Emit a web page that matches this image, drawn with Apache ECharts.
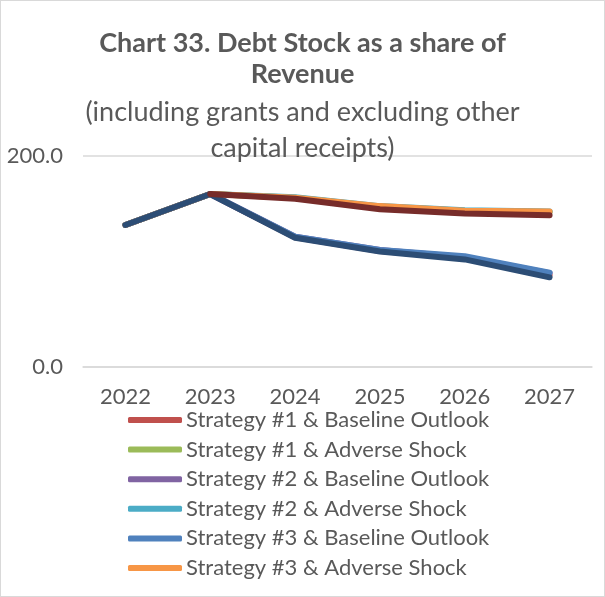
<!DOCTYPE html>
<html><head><meta charset="utf-8">
<script src="https://cdn.jsdelivr.net/npm/echarts@6/dist/echarts.min.js"></script>
<style>html,body{margin:0;padding:0;background:#fff}#c{position:absolute;left:0;top:0;width:603px;height:595px;border:1px solid #d9d9d9}</style>
</head><body><div id="c"></div>
<script>
const years = ['2022','2023','2024','2025','2026','2027'];
const s1Base = [134.6,164,123,110,103,87];
const s1Adv  = [134.6,164,160.5,152,148,147];
const s2Base = [134.6,164,123.5,111,104,89];
const s2Adv  = [134.6,164,161,152.5,148.5,147.5];
const s3Base = [134.6,164,123.5,111,105,89.5];
const s3Adv  = [134.6,164,160.5,152.5,148,147.5];
const extraA = [134.6,164,122.5,109.5,102,85];
const extraB = [null,164,159.5,149.5,145.5,143.8];
const yTicks = [0,200];

const FONT = 'Lato';
const names = ['Strategy #1 & Baseline Outlook','Strategy #1 & Adverse Shock','Strategy #2 & Baseline Outlook','Strategy #2 & Adverse Shock','Strategy #3 & Baseline Outlook','Strategy #3 & Adverse Shock','Series 7','Series 8'];
const colors = ['#C0504D','#9BBB59','#8064A2','#4BACC6','#4F81BD','#F79646','#2C4D75','#772C2A'];
const datas = [s1Base,s1Adv,s2Base,s2Adv,s3Base,s3Adv,extraA,extraB];

const chart = echarts.init(document.getElementById('c'));
chart.setOption({
  animation:false,
  textStyle:{fontFamily:FONT},
  title:{
    text:'Chart 33. Debt Stock as a share of\nRevenue',
    subtext:'(including grants and excluding other\ncapital receipts)',
    left:'center', top:22, itemGap:4,
    textStyle:{fontFamily:FONT,fontSize:27,fontWeight:'bold',color:'#595959',lineHeight:31},
    subtextStyle:{fontFamily:FONT,fontSize:27,color:'#595959',lineHeight:36}
  },
  grid:{left:82,right:12,top:155,bottom:229,containLabel:false},
  xAxis:{type:'category',data:years,boundaryGap:true,
    axisLine:{show:true,lineStyle:{color:'#d9d9d9',width:1.5}},axisTick:{show:false},
    axisLabel:{fontFamily:FONT,fontSize:22,color:'#595959',margin:19}},
  yAxis:{type:'value',min:yTicks[0],max:yTicks[1],interval:200,
    axisLine:{show:false},axisTick:{show:false},
    splitLine:{lineStyle:{color:'#d9d9d9',width:1.5}},
    axisLabel:{fontFamily:FONT,fontSize:22,color:'#595959',margin:20,formatter:v=>v.toFixed(1)}},
  legend:{orient:'vertical',left:122,top:403,itemWidth:54,itemHeight:6,itemGap:7.6,
    data:names.slice(0,6).map((n,i)=>({name:n,icon:'roundRect',itemStyle:{color:colors[i]}})),
    textStyle:{fontFamily:FONT,fontSize:22,color:'#595959',padding:[0,0,0,-1]}},
  series: datas.map((d,i)=>({name:names[i],type:'line',data:d,showSymbol:false,symbol:'none',
    color:colors[i],lineStyle:{width:6,color:colors[i],cap:'round',join:'round'}}))
});
</script></body></html>
